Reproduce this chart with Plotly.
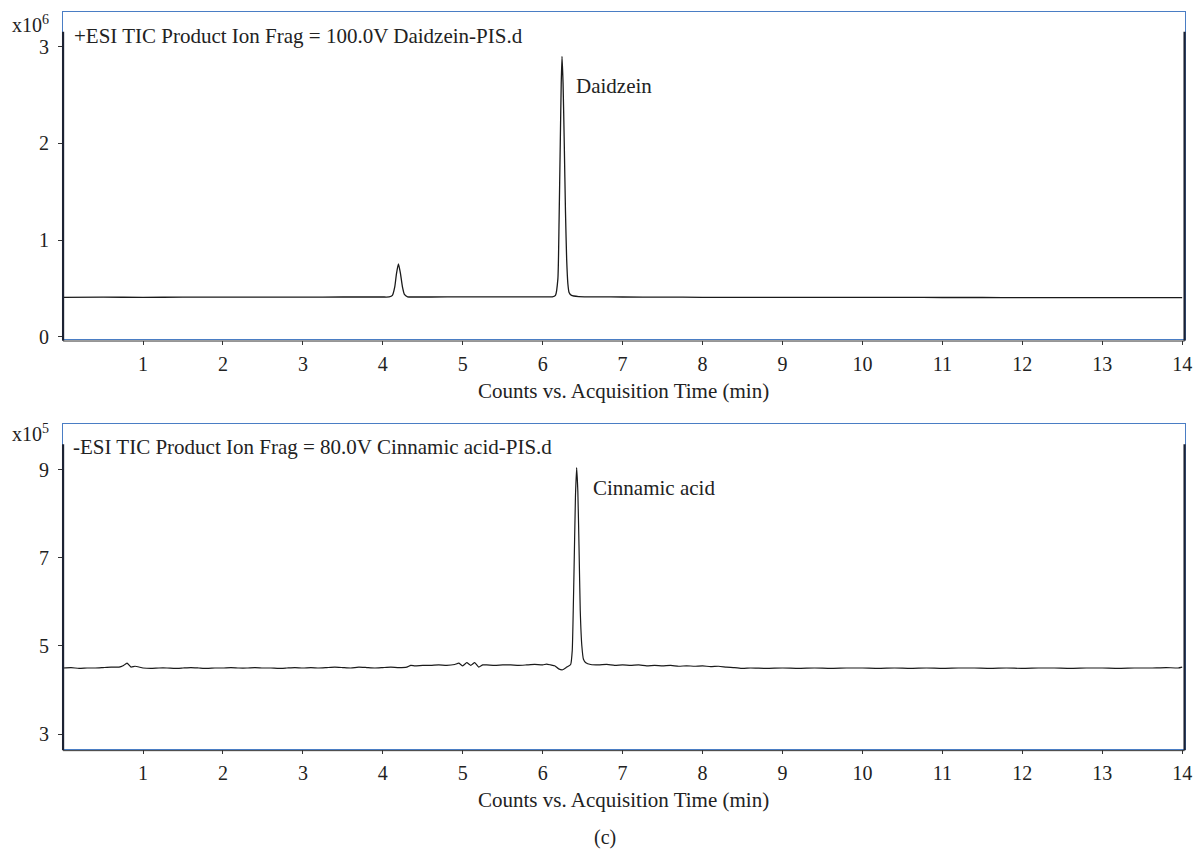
import plotly.graph_objects as go

# ---- Positive ESI TIC (counts x10^6) ----
pos_time = [0.0, 0.5, 1.0, 1.5, 2.0, 2.5, 3.0, 3.5, 3.8, 4.0, 4.08,
            4.12, 4.15, 4.17, 4.195, 4.22, 4.245, 4.27, 4.31, 4.4, 4.6,
            5.0, 5.5, 5.8, 6.0, 6.12, 6.16, 6.19, 6.205, 6.22, 6.232,
            6.242, 6.255, 6.27, 6.285, 6.30, 6.315, 6.33, 6.36, 6.45,
            6.7, 7.0, 7.5, 8.0, 8.5, 9.0, 9.5, 10.0, 10.5, 11.0, 11.5,
            12.0, 12.5, 13.0, 13.5, 14.0]
pos_counts = [0.410, 0.411, 0.410, 0.411, 0.412, 0.412, 0.412, 0.413, 0.413, 0.413, 0.414,
              0.43, 0.52, 0.65, 0.755, 0.66, 0.52, 0.44, 0.415, 0.413, 0.413,
              0.414, 0.414, 0.414, 0.414, 0.415, 0.43, 0.60, 1.20, 2.00, 2.62,
              2.90, 2.62, 2.00, 1.30, 0.80, 0.55, 0.46, 0.43, 0.418,
              0.414, 0.413, 0.412, 0.410, 0.410, 0.410, 0.409, 0.409, 0.409, 0.408, 0.408,
              0.407, 0.407, 0.406, 0.406, 0.406]

# ---- Negative ESI TIC (counts x10^5) ----
neg_time = [0.0, 0.1, 0.2, 0.3, 0.4, 0.5, 0.6, 0.7, 0.75, 0.8, 0.85, 0.9, 1.0,
            1.1, 1.2, 1.3, 1.4, 1.5, 1.6, 1.7, 1.8, 1.9, 2.0,
            2.1, 2.2, 2.3, 2.4, 2.5, 2.6, 2.7, 2.8, 2.9,
            3.0, 3.1, 3.2, 3.3, 3.4, 3.5, 3.6, 3.7, 3.8, 3.9, 4.0, 4.1, 4.2, 4.3,
            4.35, 4.4, 4.5, 4.6, 4.7, 4.8, 4.9, 4.95, 5.0, 5.05, 5.1, 5.15, 5.2, 5.25,
            5.3, 5.4, 5.5, 5.6, 5.7, 5.8, 5.9, 6.0, 6.05, 6.1, 6.15, 6.2, 6.25, 6.3,
            6.35, 6.37, 6.39, 6.41, 6.425, 6.44, 6.455, 6.47, 6.49, 6.51, 6.54,
            6.6, 6.7, 6.8, 6.9, 7.0, 7.1, 7.2, 7.3, 7.4, 7.5, 7.6, 7.7, 7.8, 7.9,
            8.0, 8.1, 8.2, 8.3, 8.4, 8.5, 8.6, 8.8, 9.0, 9.2, 9.4, 9.6, 9.8,
            10.0, 10.2, 10.4, 10.6, 10.8, 11.0, 11.2, 11.4, 11.6, 11.8,
            12.0, 12.2, 12.4, 12.6, 12.8, 13.0, 13.2, 13.4, 13.6, 13.8, 13.95, 14.0]
neg_counts = [4.50, 4.51, 4.49, 4.50, 4.50, 4.51, 4.52, 4.52, 4.55, 4.61, 4.52, 4.54, 4.50,
              4.49, 4.50, 4.50, 4.49, 4.50, 4.51, 4.50, 4.49, 4.50, 4.50,
              4.51, 4.50, 4.50, 4.51, 4.50, 4.50, 4.49, 4.50, 4.51,
              4.50, 4.51, 4.50, 4.51, 4.52, 4.51, 4.50, 4.52, 4.51, 4.50, 4.51, 4.52, 4.51, 4.52,
              4.56, 4.55, 4.56, 4.56, 4.57, 4.56, 4.58, 4.61, 4.55, 4.62, 4.56, 4.62, 4.52, 4.57,
              4.57, 4.56, 4.57, 4.57, 4.56, 4.57, 4.58, 4.57, 4.59, 4.57, 4.55, 4.48, 4.46, 4.52,
              4.58, 4.90, 6.50, 8.40, 9.05, 8.50, 7.20, 5.80, 5.00, 4.70, 4.62,
              4.58, 4.57, 4.58, 4.56, 4.57, 4.56, 4.57, 4.55, 4.56, 4.55, 4.56, 4.54, 4.55, 4.54,
              4.55, 4.53, 4.54, 4.52, 4.51, 4.49, 4.50, 4.49, 4.50, 4.49, 4.50, 4.49, 4.50,
              4.50, 4.49, 4.50, 4.49, 4.50, 4.49, 4.50, 4.50, 4.49, 4.50,
              4.49, 4.50, 4.50, 4.49, 4.50, 4.50, 4.49, 4.50, 4.50, 4.51, 4.50, 4.52]

x_ticks = list(range(1, 15))
pos_yticks = [0, 1, 2, 3]
neg_yticks = [3, 5, 7, 9]

W, H = 1202, 854
FONT = "Liberation Serif"
TEXT = "#222222"
BLUE = "#4a7dc4"
TRACE = "#1a1a1a"


def px_x(v):
    return v / W


def px_y(v):
    return 1 - v / H


fig = go.Figure()
fig.add_trace(go.Scatter(x=pos_time, y=pos_counts, mode="lines",
                         line=dict(color=TRACE, width=1.3, shape="spline", smoothing=0.5),
                         xaxis="x", yaxis="y", hoverinfo="skip"))
fig.add_trace(go.Scatter(x=neg_time, y=neg_counts, mode="lines",
                         line=dict(color=TRACE, width=1.2, shape="spline", smoothing=0.4),
                         xaxis="x2", yaxis="y2", hoverinfo="skip"))

x_dom = [px_x(63.5), px_x(1192.5)]
top_dom = [px_y(343), px_y(12)]
bot_dom = [px_y(757), px_y(429)]

xcommon = dict(range=[0, 14.03], tickvals=x_ticks, ticks="outside", ticklen=4,
               tickcolor="#333", tickwidth=1, showgrid=False, zeroline=False,
               showline=True, linecolor=BLUE, linewidth=1.3, mirror=True,
               ticklabelstandoff=2,
               tickfont=dict(family=FONT, size=20, color=TEXT), domain=x_dom)
ycommon = dict(ticks="outside", ticklen=4, tickcolor="#333", tickwidth=1,
               showgrid=False, zeroline=False, showline=True, linecolor=BLUE,
               linewidth=1.3, mirror=True, ticklabelstandoff=5,
               tickfont=dict(family=FONT, size=20, color=TEXT))

fig.update_layout(
    width=W, height=H, margin=dict(l=0, r=0, t=0, b=0),
    paper_bgcolor="white", plot_bgcolor="white", showlegend=False,
    xaxis=dict(**xcommon, anchor="y"),
    yaxis=dict(**ycommon, range=[-0.025, 3.36], tickvals=pos_yticks,
               domain=top_dom, anchor="x"),
    xaxis2=dict(**xcommon, anchor="y2"),
    yaxis2=dict(**ycommon, range=[2.66, 10.03], tickvals=neg_yticks,
                domain=bot_dom, anchor="x2"),
)

# dark frame segments drawn over the blue plot border
for xr, yr, top_px in (("x domain", "y domain", 331), ("x2 domain", "y2 domain", 328)):
    y_end = 1 - 20 / top_px
    fig.add_shape(type="line", xref=xr, yref=yr, x0=0, x1=0, y0=-0.004, y1=y_end,
                  line=dict(color="#1c2233", width=2.2))
    fig.add_shape(type="line", xref=xr, yref=yr, x0=1, x1=1, y0=-0.004, y1=y_end,
                  line=dict(color="#1c2233", width=2.2))
    fig.add_shape(type="line", xref=xr, yref=yr, x0=0, x1=1, y0=-0.005, y1=-0.005,
                  line=dict(color="#333333", width=1))


def note(text, x, y, xanchor="left", yanchor="middle", size=21):
    fig.add_annotation(text=text, x=px_x(x), y=px_y(y), xref="paper", yref="paper",
                       xanchor=xanchor, yanchor=yanchor, showarrow=False,
                       font=dict(family=FONT, size=size, color=TEXT))


note("x10<sup>6</sup>", 51, 24, xanchor="right", size=20)
note("x10<sup>5</sup>", 51, 438, xanchor="right", size=20)
note("+ESI TIC Product Ion Frag = 100.0V Daidzein-PIS.d", 72, 36)
note("-ESI TIC Product Ion Frag = 80.0V Cinnamic acid-PIS.d", 71, 452)
note("Daidzein", 578, 87)
note("Cinnamic acid", 595, 493)
note("Counts vs. Acquisition Time (min)", 628, 395, xanchor="center")
note("Counts vs. Acquisition Time (min)", 628, 809, xanchor="center")
note("(c)", 609, 846, xanchor="center", size=20)

fig.write_html("out.html")
